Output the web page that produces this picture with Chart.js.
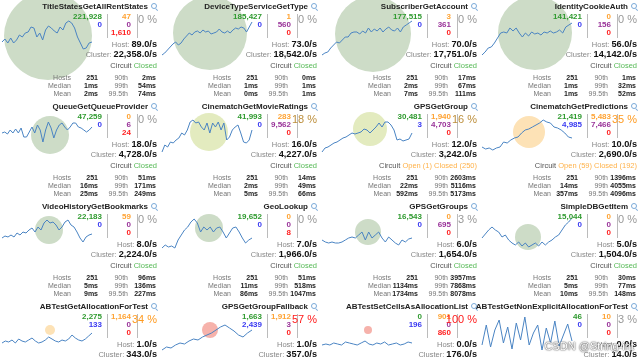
<!DOCTYPE html>
<html>
<head>
<meta charset="utf-8">
<script src="https://cdn.jsdelivr.net/npm/chart.js@4.4.1/dist/chart.umd.min.js"></script>
<style>
  body { margin: 0; background: #fff; font-family: "Liberation Sans", Arial, sans-serif; }
  #wrap { position: relative; width: 640px; height: 363px; overflow: hidden; background: #fff; }
  .cell { position: absolute; width: 160px; height: 100px; }
  .cell canvas { position: absolute; left: 0; top: 0; }
  .t { position: absolute; white-space: nowrap; line-height: 1; }
  .sep { position: absolute; width: 1px; background: #bbb; }
  .mag { position: absolute; width: 4px; height: 4px; border: 1.3px solid #7aa9d8; border-radius: 50%; }
  .magh { position: absolute; width: 3px; height: 1.4px; background: #7aa9d8; transform: rotate(45deg); }
  #wm { position: absolute; right: 6px; top: 340px; font-size: 11px; color: #fff; text-shadow: 0 0 2px #444, 0 0 1px #444; }
</style>
</head>
<body>
<div id="wrap"><div id="wm">CSDN @String-int</div></div>
<script>
// command names
const names = ['TitleStatesGetAllRentStates', 'DeviceTypeServiceGetType', 'SubscriberGetAccount', 'IdentityCookieAuth',
  'QueueGetQueueProvider', 'CinematchGetMovieRatings', 'GPSGetGroup', 'CinematchGetPredictions',
  'VideoHistoryGetBookmarks', 'GeoLookup', 'GPSGetGroups', 'SimpleDBGetItem',
  'ABTestGetAllocationForTest', 'GPSGetGroupFallback', 'ABTestSetCellsAsAllocationList', 'ABTestGetNonExplicitAllocationForTest'];

// counters
const successCount  = [221928, 185427, 177515, 141421, 47259, 41993, 30481, 21419, 22183, 19652, 16543, 15044, 2275, 1663, 0, 46];
const shortCircuit  = [0, 0, 0, 0, 0, 0, 3, 4985, 0, 0, 0, 0, 133, 2439, 196, 0];
const timeoutCount  = [47, 1, 3, 0, 0, 283, 1940, 5483, 59, 0, 0, 0, 1164, 1912, 901, 10];
const rejectedCount = [0, 560, 361, 156, 6, 9562, 4703, 7466, 0, 0, 695, 0, 0, 3, 0, 0];
const failureCount  = [1610, 0, 0, 0, 24, 0, 0, 0, 0, 8, 0, 0, 0, 0, 860, 0];
const errorPct      = [0, 0, 0, 0, 0, 18, 16, 35, 0, 0, 3, 0, 34, 57, 100, 3];

// rates
const hostRate    = [89, 73, 70, 56, 18, 16, 12, 10, 8, 7, 6, 5, 1, 1, 0, 0];
const clusterRate = [22358, 18542, 17751, 14142, 4728, 4227, 3242, 2690, 2224, 1966, 1654, 1504, 343, 357, 176, 14];
const circleVolume = [44, 37, 38, 37, 19, 19, 17, 16, 14, 14, 13, 13, 5, 8, 4, 0];

// circuit: open host count (0 = all closed)
const circuitOpen = [0, 0, 0, 0, 0, 0, 1, 59, 0, 0, 0, 0, null, null, null, null];
const hostCount   = [251, 251, 251, 251, 251, 251, 251, 251, 251, 251, 251, 251, null, null, null, null];

// latency (ms)
const latMedian = [1, 1, 2, 1, 16, 2, 22, 14, 5, 11, 1134, 5, null, null, null, null];
const latMean   = [2, 0, 7, 1, 25, 5, 592, 357, 9, 86, 1734, 10, null, null, null, null];
const lat90     = [2, 0, 17, 1, 51, 14, 2603, 1396, 96, 51, 3957, 30, null, null, null, null];
const lat99     = [54, 1, 67, 32, 171, 49, 5116, 4055, 136, 518, 7868, 77, null, null, null, null];
const lat995    = [74, 1, 111, 52, 249, 66, 5173, 4096, 227, 1047, 8078, 148, null, null, null, null];

// sparkline values (rate history)
const sparks = [
  [8, 11, 7, 12, 7, 10, 15, 13, 17, 18, 23, 22, 13, 17, 10, 20, 24, 22, 19, 17, 23, 20, 27, 29, 27, 22, 13, 7, 1, 2, 7, 8],
  [5, 7, 10, 13, 16, 18, 15, 17, 21, 24, 27, 25, 28, 29, 27, 30, 28, 29, 26, 27, 28, 31, 28, 27, 29, 27, 30, 32, 31, 33, 32, 28, 33, 38],
  [5, 7, 8, 12, 15, 18, 17, 20, 23, 23, 27, 28, 28, 26, 29, 27, 32, 28, 31, 29, 32, 28, 31, 33, 30, 29, 32, 28, 33, 35, 37, 39],
  [5, 8, 12, 13, 17, 22, 27, 28, 27, 32, 29, 32, 27, 23, 27, 24, 28, 26, 27, 25, 28, 27, 29, 27, 28, 30, 27, 33, 35, 37],
  [12, 13, 11, 15, 12, 16, 12, 17, 8, 8, 13, 18, 12, 20, 15, 3, 15, 23, 17, 7, 15, 20, 22, 18, 15, 18, 22, 22, 18, 17, 15, 13, 15, 18],
  [8, 15, 13, 18, 17, 20, 22, 27, 25, 30, 38, 40, 37, 38, 33, 30, 37, 27, 37, 33, 38, 30, 37, 20, 23, 30, 33, 35, 27, 18, 17, 20, 30],
  [8, 12, 13, 15, 17, 18, 20, 22, 23, 25, 27, 26, 27, 28, 31, 30, 27, 30, 33, 37, 33, 38, 38, 35, 30, 20, 21, 19, 20, 21, 27],
  [13, 11, 12, 10, 12, 13, 18, 17, 20, 22, 23, 27, 30, 31, 33, 35, 37, 40, 38, 37, 33, 32, 30, 27, 23, 22],
  [12, 14, 13, 15, 13, 17, 15, 18, 17, 20, 22, 18, 23, 20, 27, 30, 27, 28, 25, 20, 23, 28, 30, 25, 23, 18, 12, 8, 13, 15, 16],
  [7, 10, 8, 9, 7, 15, 20, 25, 28, 33, 36, 32, 23, 28, 25, 28, 23, 27, 28, 23, 17, 22, 27, 28, 23, 17, 12, 15, 17],
  [15, 13, 12, 13, 12, 12, 13, 15, 17, 18, 17, 20, 23, 15, 23, 17, 20, 23, 17, 13, 18, 15, 12, 10, 15, 13, 16, 17],
  [17, 21, 25, 28, 25, 23, 18, 20, 15, 12, 10, 13, 9, 12, 8, 10, 12, 9, 13, 10, 13, 15, 18, 20, 25, 30, 33, 37],
  [12, 14, 13, 15, 12, 16, 14, 13, 15, 17, 14, 12, 13, 15, 18, 16, 14, 13, 15, 14, 16, 20, 17, 15, 14, 16, 19, 22],
  [5, 8, 7, 10, 12, 11, 14, 16, 15, 18, 20, 22, 25, 28, 30, 27, 24, 20, 18, 22, 25],
  [10, 11, 10, 12, 11, 10, 13, 12, 11, 10, 12, 14, 11, 10, 12, 11, 13, 10, 11, 12, 10, 11, 13, 12],
  [10, 30, 8, 25, 35, 12, 28, 6, 32, 15, 38, 10, 22, 30, 5, 27, 12, 34, 9, 20, 31, 14]
];

// layout: circle centre and sparkline baseline per cell (px inside cell)
const circleX = [48, 50, 53, 55, 50, 49, 50, 49, 49, 49, 48, 48, 50, 50, 48, 50];
const circleY = [36, 33, 34, 33, 35, 32, 29, 32, 30, 28, 32, 37, 30, 30, 30, 30];
const lineBase = [50, 60, 60, 60, 45, 60, 60, 60, 50, 55, 55, 55, 55, 55, 55, 55];

const fmt = n => n.toLocaleString('en-US');

function errColor(p) {
  if (p >= 50) return '#ff1a1a';
  if (p >= 30) return '#ff9a1f';
  if (p >= 10) return '#bd8f3c';
  return '#999';
}
function circleColor(p) {
  if (p >= 50) return '#f6b2ab';
  if (p >= 30) return '#fde2b6';
  if (p >= 10) return '#e3ebbf';
  return '#cddcc7';
}

const wrap = document.getElementById('wrap');

function txt(cell, html, right, cy, size, style) {
  const d = document.createElement('div');
  d.className = 't';
  d.style.right = (160 - right) + 'px';
  d.style.top = (cy - size / 2) + 'px';
  d.style.fontSize = size + 'px';
  if (style) d.style.cssText += style;
  d.innerHTML = html;
  cell.appendChild(d);
}

names.forEach((name, i) => {
  const cell = document.createElement('div');
  cell.className = 'cell';
  cell.style.left = (i % 4) * 160 + 'px';
  cell.style.top = Math.floor(i / 4) * 100 + 'px';
  wrap.insertBefore(cell, document.getElementById('wm'));

  const cv = document.createElement('canvas');
  cv.width = 100; cv.height = 100;
  cv.style.width = '100px'; cv.style.height = '100px';
  cell.appendChild(cv);

  const n = sparks[i].length - 1;
  new Chart(cv, {
    data: {
      datasets: [
        {
          type: 'line',
          order: 0,
          data: sparks[i].map((v, k) => ({ x: k, y: v })),
          borderColor: '#4a84c3',
          borderWidth: 1,
          pointRadius: 0,
          tension: 0,
          xAxisID: 'lx',
          yAxisID: 'ly'
        },
        {
          type: 'bubble',
          order: 1,
          clip: false,
          data: [{ x: circleX[i], y: circleY[i], r: circleVolume[i] }],
          backgroundColor: circleColor(errorPct[i]),
          borderWidth: 0,
          xAxisID: 'x',
          yAxisID: 'y'
        }
      ]
    },
    options: {
      responsive: false,
      animation: false,
      devicePixelRatio: 1,
      events: [],
      layout: { padding: 0, autoPadding: false },
      plugins: { legend: { display: false }, tooltip: { enabled: false } },
      scales: {
        x: { type: 'linear', display: false, min: 0, max: 100 },
        y: { type: 'linear', display: false, min: 0, max: 100, reverse: true },
        lx: { type: 'linear', display: false, min: -n * 2 / 90, max: n * 98 / 90 },
        ly: { type: 'linear', display: false, min: lineBase[i] - 100, max: lineBase[i] }
      }
    }
  });

  // title + magnifier
  txt(cell, name, 148, 7, 8, 'font-weight:bold;color:#222;');
  const mg = document.createElement('div'); mg.className = 'mag';
  mg.style.left = '150.5px'; mg.style.top = '2.5px'; cell.appendChild(mg);
  const mh = document.createElement('div'); mh.className = 'magh';
  mh.style.left = '155px'; mh.style.top = '9px'; cell.appendChild(mh);

  // counters
  txt(cell, fmt(successCount[i]), 102, 17, 8, 'font-weight:bold;color:#2f9a2f;');
  txt(cell, fmt(shortCircuit[i]), 102, 25, 8, 'font-weight:bold;color:#3a3af2;');
  txt(cell, fmt(timeoutCount[i]), 131, 17, 8, 'font-weight:bold;color:#ffa333;');
  txt(cell, fmt(rejectedCount[i]), 131, 25, 8, 'font-weight:bold;color:#993399;');
  txt(cell, fmt(failureCount[i]), 131, 33, 8, 'font-weight:bold;color:#ff2222;');
  [107, 137].forEach(x => {
    const s = document.createElement('div'); s.className = 'sep';
    s.style.left = x + 'px'; s.style.top = '14px'; s.style.height = '24px';
    cell.appendChild(s);
  });
  txt(cell, errorPct[i] + ' %', 157, 19, 11, 'color:' + errColor(errorPct[i]) + ';');

  // rates
  txt(cell, '<span style="font-size:7.5px;color:#888;font-weight:normal">Host: </span>' + hostRate[i].toFixed(1) + '/s',
    157, 45, 9.2, 'font-weight:bold;color:#111;');
  txt(cell, '<span style="font-size:7.5px;color:#888;font-weight:normal">Cluster: </span>' + fmt(clusterRate[i]) + '.0/s',
    157, 55, 9.2, 'font-weight:bold;color:#111;');

  // circuit status
  if (hostCount[i] !== null) {
    const st = circuitOpen[i] > 0
      ? '<span style="color:#ffb24a">Open (' + circuitOpen[i] + ') Closed (' + (hostCount[i] - circuitOpen[i]) + ')</span>'
      : '<span style="color:#55b955">Closed</span>';
    txt(cell, '<span style="color:#555">Circuit </span>' + st, 157, 66, 7.5, '');

    // latency table
    const rows = [
      ['Hosts', hostCount[i], '90th', lat90[i] + 'ms'],
      ['Median', latMedian[i] + 'ms', '99th', lat99[i] + 'ms'],
      ['Mean', latMean[i] + 'ms', '99.5th', lat995[i] + 'ms']
    ];
    rows.forEach((r, k) => {
      const cy = 77 + k * 8;
      txt(cell, r[0], 71, cy, 7, 'color:#777;');
      txt(cell, r[1], 98, cy, 7, 'color:#222;font-weight:bold;');
      txt(cell, r[2], 128, cy, 7, 'color:#777;');
      txt(cell, r[3], 156, cy, 7, 'color:#222;font-weight:bold;');
    });
  }
});
</script>
</body>
</html>
